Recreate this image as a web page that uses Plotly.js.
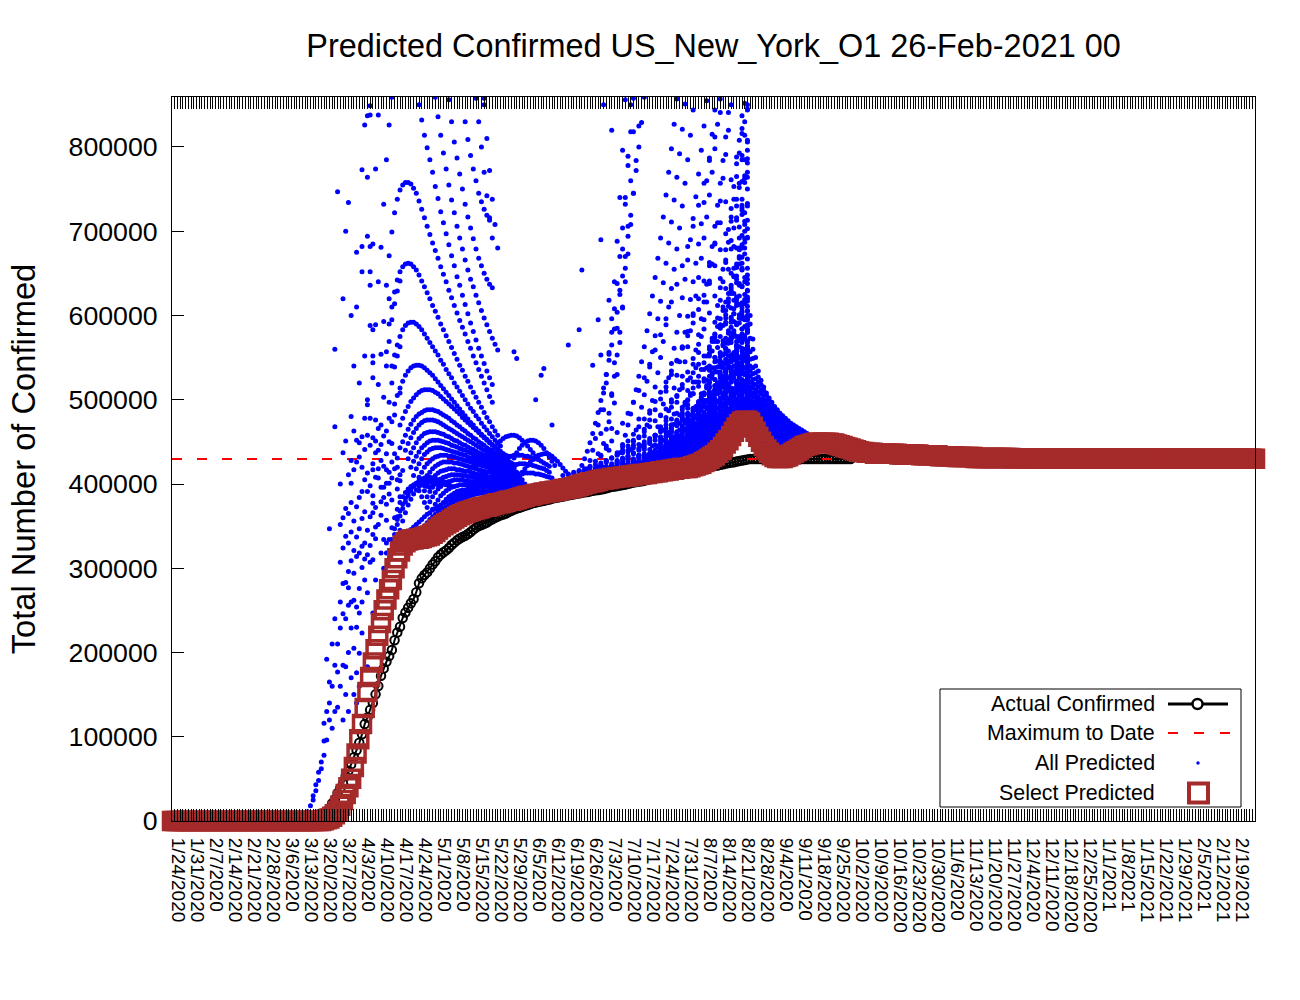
<!DOCTYPE html>
<html>
<head>
<meta charset="utf-8">
<script src="https://cdn.plot.ly/plotly-3.0.1.min.js"></script>
<style>html,body{margin:0;padding:0;background:#fff;}#chart{width:1300px;height:1000px;}</style>
</head>
<body>
<div id="chart"></div>
<script>
// ---------------- DATA ----------------
const startDate = '2020-01-24';
const endDate = '2021-02-26';
const chartTitle = 'Predicted Confirmed US_New_York_O1 26-Feb-2021 00';
const yTitle = 'Total Number of Confirmed';
const legendNames = ['Actual Confirmed', 'Maximum to Date', 'All Predicted', 'Select Predicted'];

const xTickLabels = ['1/24/2020','1/31/2020','2/7/2020','2/14/2020','2/21/2020','2/28/2020','3/6/2020','3/13/2020','3/20/2020','3/27/2020',
'4/3/2020','4/10/2020','4/17/2020','4/24/2020','5/1/2020','5/8/2020','5/15/2020','5/22/2020','5/29/2020','6/5/2020',
'6/12/2020','6/19/2020','6/26/2020','7/3/2020','7/10/2020','7/17/2020','7/24/2020','7/31/2020','8/7/2020','8/14/2020',
'8/21/2020','8/28/2020','9/4/2020','9/11/2020','9/18/2020','9/25/2020','10/2/2020','10/9/2020','10/16/2020','10/23/2020',
'10/30/2020','11/6/2020','11/13/2020','11/20/2020','11/27/2020','12/4/2020','12/11/2020','12/18/2020','12/25/2020','1/1/2021',
'1/8/2021','1/15/2021','1/22/2021','1/29/2021','2/5/2021','2/12/2021','2/19/2021'];
const yTickValues = [0,100000,200000,300000,400000,500000,600000,700000,800000];
const yTickLabels = ['0','100000','200000','300000','400000','500000','600000','700000','800000'];

const maxToDate = 429670;

// Actual confirmed, thousands, daily from 2020-01-24
const actualK = [
0,0,0,0,0,0,0,0,0,0,
0,0,0,0,0,0,0,0,0,0,
0,0,0,0,0,0,0,0,0,0,
0,0,0,0,0,0,0,0,0,0,
0.01,0.02,0.04,0.09,0.11,0.14,0.17,0.22,0.33,0.42,
0.61,0.73,0.95,1.37,2.38,4.15,7.1,10.4,15.2,20.9,
25.7,33.1,39.0,44.6,53.4,59.6,67.2,75.8,83.9,92.8,
102.9,115.0,122.9,131.9,140.1,150.3,160.1,172.3,181.0,189.0,
195.7,203.0,214.5,223.7,230.6,241.0,247.5,253.1,258.4,263.5,
271.6,282.1,288.0,292.0,295.1,299.7,304.4,308.3,313.0,316.4,
319.0,321.2,324.0,327.5,330.4,333.1,335.4,337.1,338.5,340.7,
343.1,345.8,348.2,350.1,351.4,352.8,354.4,356.5,358.2,359.9,
361.5,362.8,363.8,365.0,366.7,368.3,369.7,370.8,371.7,373.0,
374.1,375.1,376.2,377.3,378.1,378.8,379.5,380.2,380.9,381.7,
382.6,383.3,383.9,384.6,385.1,385.8,386.6,387.3,387.9,388.5,
388.9,389.7,390.3,390.4,391.2,391.9,392.5,392.9,393.5,394.1,
395.0,395.9,396.6,397.1,397.6,398.2,398.8,399.5,400.3,401.0,
401.7,402.3,402.9,403.2,404.0,404.8,405.6,406.3,406.8,407.3,
408.2,408.9,409.7,410.5,411.2,411.7,412.3,412.9,413.6,414.4,
415.0,415.8,416.3,416.8,417.6,418.2,418.9,419.6,420.3,420.9,
421.3,422.0,422.7,423.4,424.2,424.9,425.5,425.9,426.6,427.2,
427.8,428.5,429.2,429.67,429.67,429.67,429.67,429.67,429.67,429.67,
429.67,429.67,429.67,429.67,429.67,429.67,429.67,429.67,429.67,429.67,
429.67,429.67,429.67,429.67,429.67,429.67,429.67,429.67,429.67,429.67,
429.67,429.67,429.67,429.67,429.67,429.67,429.67,429.67,429.67,429.67,
429.67];

// Select predicted, thousands, daily from 2020-01-24 to 2021-02-26
const selectK = [
0,0,0,0,0,0,0,0,0,0,
0,0,0,0,0,0,0,0,0,0,
0,0,0,0,0,0,0,0,0,0,
0,0,0,0,0,0,0,0,0,0,
0,0,0,0,0,0,0,0,0,0,
0,0,0,0,0,0,1,2,3,5,
8,12,18,25,32,40,50,64,80,97,
115,134,153,171,188,204,220,235,250,263,
275,286,300,312,320,327,331,333,334,334,
335,335,336,337,338,339,341,343,346,349,
351,353,355,357,359,361,363,364,366,367,
368,369,370,371,372,373,373,374,375,376,
377,377,378,379,380,380,381,382,383,384,
385,386,386,387,388,388,389,390,390,391,
391,392,392,393,394,394,395,395,396,397,
398,399,400,401,402,402,403,404,405,405,
406,406,407,407,408,408,409,409,409,410,
410,411,411,412,412,412,413,413,414,414,
415,415,416,416,417,417,418,418,419,419,
419,420,421,422,423,424,426,428,430,432,
434,437,440,444,448,452,457,462,467,471,
474,475,475,473,468,462,456,450,445,441,
437,434,432,431,431,431,432,433,435,437,
439,441,443,445,446,447,448,449,449,449,
449,449,449,448,448,447,446,445,444,443,
442,441,440,439,438,438,437,437,437,436,
436,436,436,436,436,436,436,436,435,435,
435,435,435,435,435,435,434,434,434,434,
434,434,434,433,433,433,433,433,433,432,
432,432,432,432,432,432,431,431,431,431,
431,431,431,431,431,431,431,431,431,431,
430.5,430.5,430.5,430.5,430.5,430.5,430.5,430.5,430.5,430.5,
430,430,430,430,430,430,430,430,430,430,
430,430,430,430,430,430,430,430,430,430,
430,430,430,430,430,430,430,430,430,430,
430,430,430,430,430,430,430,430,430,430,
430,430,430,430,430,430,430,430,430,430,
430,430,430,430,430,430,430,430,430,430,
430,430,430,430,430,430,430,430,430,430,
430,430,430,430,430,430,430,430,430,430];

// All predicted: spring prediction curves (daily values, thousands)
const springStart = ['2020-04-13','2020-04-13','2020-04-14','2020-04-15','2020-04-17','2020-04-18','2020-04-19','2020-04-20',
'2020-04-21','2020-04-22','2020-04-23','2020-04-24','2020-04-25','2020-04-26','2020-04-27','2020-04-29','2020-05-01','2020-05-04',
'2020-05-21','2020-05-27','2020-05-31','2020-04-19','2020-04-25','2020-04-29','2020-04-15','2020-04-17','2020-04-13','2020-04-11',
'2020-05-13','2020-05-15','2020-05-18'];
const springK = [
[671,699,722,738,749,755,758,758,756,751,745,736,726,716,706,696,686,677,668,658,649,640,630,621,612,603,594,586,578,569,561,552,544,536,528,520,512,504,497],
[590,610,628,642,652,658,661,662,661,658,654,648,641,634,627,620,612,605,598,590,583,576,569,562,555,548,541,535,528,522,515,509,503,497,491,485,479,474,468,463,458],
[540,553,565,575,583,588,591,592,592,590,587,583,578,573,568,563,558,553,547,542,536,531,526,520,515,510,505,500,495,490,486,481,477,472,468,464,460,456,452,449,445],
[495,505,514,522,529,534,538,540,541,541,540,538,535,532,529,525,521,517,513,509,505,501,497,493,489,485,481,477,473,470,466,463,459,456,453,450,447,444,441,438,436],
[470,478,486,492,498,502,506,509,511,512,512,512,511,509,507,504,501,498,495,492,489,486,483,479,476,473,470,467,464,461,458,455,452,449,446,444,441,439,436,434,432],
[450,458,465,471,476,480,483,485,487,488,488,488,487,486,484,482,480,478,475,473,470,468,465,463,460,458,455,453,450,448,446,443,441,439,437,435,433,431,429,427,425],
[440,448,455,461,466,470,473,475,476,476,476,475,474,472,470,468,466,464,462,460,458,456,454,452,450,448,446,444,442,440,438,436,434,432,431,429,427,426,424,423],
[430,437,443,449,454,457,460,461,462,462,462,461,460,459,457,456,454,452,451,449,447,446,444,442,441,439,437,436,434,433,431,430,428,427,426,424,423,422,421,420],
[420,427,433,438,443,446,449,451,452,452,452,451,450,449,448,446,445,444,442,441,440,438,437,435,434,433,431,430,429,428,426,425,424,423,422,421,420,419,418],
[410,418,424,430,435,438,441,442,443,443,443,442,441,440,439,438,437,436,435,434,432,431,430,429,428,427,426,425,424,423,422,421,420,419,418,417,416,415,414],
[400,408,414,420,424,427,430,432,433,434,434,434,433,433,432,431,430,429,428,427,426,425,424,423,422,421,420,419,418,417,416,415,414,413,412,411,411,410,409],
[392,399,405,410,414,418,421,423,425,426,426,426,426,425,425,424,423,422,421,420,419,418,417,416,415,414,414,413,412,411,410,410,409,408,407,407,406,405,405],
[385,392,398,403,407,410,413,415,416,417,418,418,418,417,417,416,415,415,414,413,412,411,411,410,409,408,408,407,406,406,405,404,404,403,402,402,401,401,400],
[378,385,391,396,400,403,406,408,409,410,411,411,411,411,410,410,409,409,408,407,407,406,405,405,404,403,403,402,402,401,400,400,399,399,398,398,397,397],
[372,379,385,390,394,397,400,402,403,404,405,405,405,405,404,404,403,403,402,402,401,400,400,399,399,398,398,397,397,396,396,395,395,394,394,393,393,392],
[370,376,381,386,389,392,394,396,397,398,399,399,399,399,399,398,398,398,397,397,396,396,395,395,394,394,393,393,392,392,391,391,390,390,390,389,389],
[368,373,378,382,385,387,389,391,392,393,393,394,394,394,394,393,393,393,392,392,392,391,391,391,390,390,389,389,389,388,388,388,387,387,387,386],
[370,374,378,381,383,385,386,387,388,388,389,389,389,389,389,389,389,388,388,388,388,387,387,387,386,386,386,386,385,385,385,384,384,384],
[440,444,448,451,454,456,457,458,458,457,455,452,449,445,441,437,433,429],
[420,425,431,437,442,446,449,451,452,452,451,449,446,442,437,432,427,422],
[410,414,418,422,426,429,432,434,435,436,436,435,433,430,427,423,419,415],
[340,343,346,349,352,355,358,361,364,366,369,371,373,375,377,379,381,383,384,386,387,389,390,391,392,393,394,395,396,397,398],
[345,350,354,358,361,364,367,369,371,373,375,377,379,380,382,383,385,386,387,388,389,390,391,392,393,394,395],
[350,355,359,363,366,369,372,374,376,378,380,382,383,385,386,387,388,389,390,391,392,393,394],
[340,352,362,371,379,386,392,397,401,404,406,407,408,408,407,406,405,404,403,402,401],
[345,356,366,375,382,388,393,397,400,402,403,404,404,403,402,401,400,399,398,397],
[320,334,347,358,368,376,383,389,394,398,401,403,404,404,403,402,401,400,399,398],
[300,318,334,348,360,370,378,385,390,394,397,399,400,400,399,398,397,396],
[420,421,422,423,424,425,426,427,428,429,430,431,432,432,433,433,434,434,434,434,433,433,432,431,430,429,427,425,423,421],
[410,411,412,413,414,415,416,417,418,419,420,421,422,422,423,423,424,424,424,423,423,422,421,420,419,418,416,414],
[400,401,402,403,404,405,406,407,408,409,410,411,411,412,412,413,413,413,413,412,412,411,410,409,408,407]];

// Spring curves entering from above the plotted range (daily, thousands)
const springTopStart = ['2020-04-24','2020-05-01','2020-05-06','2020-05-11','2020-05-15','2020-05-18'];
const springTopK = [
[850,832,814,799,785,770,753,739,723,710,697,684,671,659,646,636,624,613,602,591,581,571,561,552,543,534,526,518],
[836,814,793,774,755,737,722,706,692,679,666,654,643,634,624,615,606,597,589,581,573,566,559],
[830,806,787,768,750,732,717,704,691,679,668,659,650,643,637,633],
[830,809,790,774,760,745,735,726,719,713],
[858,830,800,770,742,716,692],
[850,810,772,738,708,680]];

// Summer slow curves (every 2 days, thousands)
const summerSlowStart = ['2020-06-16','2020-06-18','2020-06-20','2020-06-24','2020-06-28','2020-06-30','2020-07-04','2020-07-06',
'2020-07-10','2020-07-12','2020-07-16','2020-07-18','2020-07-22','2020-07-24','2020-07-28','2020-07-30','2020-08-03','2020-08-05',
'2020-08-09','2020-08-11','2020-08-15','2020-08-17',
'2020-06-22','2020-06-26','2020-07-02','2020-07-08','2020-07-14','2020-07-20','2020-07-26','2020-08-01','2020-08-07','2020-08-13',
'2020-07-02','2020-07-02','2020-07-08','2020-07-08','2020-07-08'];
const summerSlowK = [
[410,411,412,413,414,416,417,419,420,422,424,426,428,430,432,434,436,439,441,444,446,449,452,455,458,461,464,468,471,475,479,483,487,491,495],
[412,414,416,418,420,423,425,428,431,434,437,440,443,447,450,454,458,462,466,470,475,479,484,489,494,499,505,510,516,522,528,534,540,547],
[408,410,413,416,419,423,427,431,435,440,445,450,456,462,468,475,482,489,497,505,514,523,532,542,552,563,574,585,597,609,622,635,648],
[412,414,416,418,421,424,427,430,433,436,440,444,448,452,456,461,466,471,476,481,487,493,499,505,512,519,526,533,541,549,557],
[414,416,418,420,422,424,426,429,431,434,436,439,442,445,448,451,454,457,461,464,468,472,476,480,484,488,492,496,501],
[415,418,421,425,429,433,437,442,447,452,458,464,470,477,484,491,499,507,516,525,535,545,556,567,579,591,604,617],
[417,419,421,423,425,427,430,432,435,437,440,443,446,449,452,455,458,462,465,469,473,477,481,485,490,494],
[418,421,424,428,432,436,441,446,451,457,463,469,476,483,490,498,506,515,524,533,543,553,564,575,587],
[420,422,424,426,429,431,434,436,439,442,445,448,451,454,458,461,465,469,473,477,481,486,490],
[421,425,429,434,439,444,450,456,462,469,476,483,491,499,508,517,526,536,546,557,568,580],
[423,425,428,431,434,437,440,443,447,451,455,459,463,468,473,478,483,488,494,500],
[424,428,433,438,443,449,455,462,469,476,484,492,501,510,520,530,541,552,564],
[426,428,431,434,437,440,444,448,452,456,460,465,470,475,480,486,492],
[428,432,437,442,448,454,461,468,476,484,493,502,512,522,533,544],
[429,432,436,440,445,450,455,461,467,473,480,487,495,503],
[430,435,441,447,454,462,470,479,488,498,509,520,532],
[432,436,441,446,451,457,463,470,477,485,493],
[434,440,447,455,463,472,482,492,503,515],
[440,446,453,461,469,478,487,497],
[444,451,459,468,478,489,500],
[456,466,477,489,502],
[465,478,492,507],
[412,416,421,427,434,442,451,461,472,484,497,511,526,542,559,577,596,616,637,659,682,706,731,757,784,812,841],
[414,417,421,426,431,437,444,451,459,468,477,487,498,509,521,534,547,561,576,591,607,624,641,659,678,697,717,738,759,781],
[416,420,425,431,438,446,455,465,476,488,501,515,530,546,563,581,600,620,641,663,686,710,735,761,788,816,845],
[419,423,428,434,441,449,458,468,479,491,504,518,533,549,566,584,603,623,644,666,689,713,738,764],
[422,426,431,437,444,452,461,471,482,494,507,521,536,552,569,587,606,626,647,669,692],
[425,429,434,440,447,455,464,474,485,497,510,524,539,555,572,590,609,629],
[428,433,439,446,454,463,473,484,496,509,523,538,554,571,589],
[431,437,444,452,461,471,482,494,507,521,536,552],
[436,444,453,463,474,486,499,513,528],
[450,460,471,483,496,510],
[416,417,418,419,420,421,422,424,426,427,429,431,433,436,438,440,443,446,449,452,455,458,461,465,468,472,476],
[416,417,419,421,423,425,428,430,433,437,440,444,448,452,456,461,465,470,476,481,487,493,499,505,512,519,526],
[419,420,421,422,423,424,425,427,428,430,432,434,436,439,441,444,446,449,452,455,459,462,465,469],
[419,420,422,424,426,428,430,433,436,439,443,446,450,454,459,463,468,473,479,484,490,496,502,509],
[419,421,424,427,430,434,438,442,447,453,458,465,471,478,485,493,501,510,519,528,538,548,558,569]];

// Summer fast / dense curves (daily, thousands)
const summerFastStart = ['2020-06-22','2020-06-25','2020-06-29','2020-07-02','2020-07-05','2020-07-09','2020-07-13','2020-07-17',
'2020-07-22','2020-07-27','2020-08-01','2020-08-05','2020-08-09','2020-08-13','2020-08-16','2020-08-18','2020-08-14','2020-08-17',
'2020-08-19','2020-06-28','2020-07-01',
'2020-07-14','2020-07-14','2020-07-14','2020-07-14',
'2020-07-20','2020-07-20','2020-07-20','2020-07-20',
'2020-07-26','2020-07-26','2020-07-26','2020-07-26','2020-07-26',
'2020-08-01','2020-08-01','2020-08-01','2020-08-01','2020-08-01',
'2020-08-07','2020-08-07','2020-08-07','2020-08-07',
'2020-08-12','2020-08-12','2020-08-12','2020-08-16','2020-08-16',
'2020-08-07','2020-08-10','2020-08-12','2020-08-15','2020-08-03','2020-07-30','2020-07-24','2020-07-18','2020-08-11','2020-08-05',
'2020-07-14','2020-07-14','2020-07-14','2020-07-14',
'2020-07-20','2020-07-20','2020-07-20','2020-07-20',
'2020-07-26','2020-07-26','2020-07-26','2020-07-26',
'2020-08-01','2020-08-01','2020-08-01','2020-08-01'];
const summerFastK = [
[415,422,430,439,449,460,472,485,499,514,530,547,565,584,604,625,647,670,694,719,745,772,800,829,859],
[418,428,440,454,470,488,508,530,554,580,608,638,670,704,740,778,818,858],
[420,433,448,465,484,505,528,553,580,609,640,673,708,745,784,825],
[418,440,466,496,530,568,610,656,706,760,818],
[420,428,437,447,458,470,483,497,512,528,545,563,582,602,623,645,668,692,717,743,770,798,827,857],
[422,431,441,452,464,477,491,506,522,539,557,576,596,617,639,662,686,711,737,764,792,821,851],
[424,434,445,457,470,484,499,515,532,550,569,589,610,632,655,679,704,730,757,785,814,844],
[426,435,445,456,468,481,495,510,526,543,561,580,600,621,643,666,690,715,741,768,796,825,855],
[428,437,447,458,470,483,497,512,528,545,563,582,602,623,645,668,692,717,743,770,798,827,857],
[430,440,451,463,476,490,505,521,538,556,575,595,616,638,661,685,710,736,763,791,820,850],
[432,442,453,465,478,492,507,523,540,558,577,597,618,640,663,687,712,738,765,793,822,852],
[435,446,458,471,485,500,516,533,551,570,590,611,633,656,680,705,731,758,786],
[440,453,467,482,498,515,533,552,572,593,615,638,662,687,713],
[448,463,479,496,514,533,553,574,596,619,643],
[458,475,493,512,532,553,574,596],
[466,490,516,544,574,606],
[445,470,500,535,575,620,670,725,785,850],
[462,500,545,597,656,722,796],
[470,530,600,680,770],
[416,436,460,488,520,556,596,640,688,740,796,856],
[420,445,474,507,544,585,630,679,732,789,850],
[422,422,423,423,424,424,425,425,426,427,427,428,429,430,431,431,432,433,434,436,437,438,439,440,441,443,444,445,447,448,450,451,453,455,456,458,460,461,463,465,467],
[422,423,423,424,425,426,427,428,429,430,432,433,434,436,437,439,441,442,444,446,448,450,452,454,457,459,461,464,466,469,472,474,477,480,483,486,489,492,495,499,502],
[422,423,424,425,427,428,430,432,433,435,437,440,442,444,447,449,452,455,458,461,464,468,471,475,478,482,486,490,494,498,502,507,511,516,521,526,531,536,541,547,552],
[422,424,425,427,429,432,434,437,440,443,446,449,453,456,460,464,468,473,477,482,487,492,497,503,508,514,520,526,533,539,546,553,560,567,574,582,589,597,605,614,622],
[425,425,426,426,427,427,428,429,429,430,431,432,433,434,435,436,437,438,439,440,442,443,444,446,447,449,451,452,454,456,457,459,461,463,465],
[425,426,426,427,428,429,430,431,433,434,435,437,439,440,442,444,446,448,450,452,454,457,459,462,464,467,470,473,476,479,482,485,488,492,495],
[425,426,427,429,430,432,433,435,437,439,441,444,446,449,452,455,458,461,464,467,471,475,479,483,487,491,495,500,504,509,514,519,524,530,535],
[425,427,428,430,433,435,438,441,444,447,450,454,458,462,466,471,475,480,485,491,496,502,508,514,520,527,534,541,548,555,563,570,578,587,595],
[428,428,429,429,430,431,431,432,433,434,435,436,437,438,439,441,442,443,445,446,448,450,451,453,455,457,459,461,463],
[428,429,430,430,431,433,434,435,437,438,440,442,443,445,448,450,452,454,457,460,462,465,468,471,474,478,481,484,488],
[428,429,430,432,433,435,437,439,442,444,447,449,452,456,459,462,466,470,474,478,482,487,491,496,501,506,512,517,523],
[428,430,432,434,436,439,442,445,448,452,456,460,464,469,474,479,484,490,495,502,508,515,522,529,536,544,551,560,568],
[428,430,433,436,440,444,448,453,458,463,469,475,482,489,496,504,512,520,529,538,548,558,568,579,590,601,613,625,638],
[431,431,432,433,433,434,435,436,437,438,439,441,442,444,445,447,449,450,452,454,457,459,461],
[431,432,433,434,435,437,438,440,442,444,446,449,451,454,457,460,463,467,470,474,478,482,486],
[431,432,434,436,438,440,442,445,448,451,455,459,463,467,471,476,481,486,492,497,503,510,516],
[431,433,435,438,441,444,448,452,456,461,466,472,477,484,490,497,505,512,520,529,537,547,556],
[431,434,437,441,445,450,455,461,467,474,482,490,498,507,516,526,537,548,560,572,584,597,611],
[438,439,439,440,442,443,444,446,448,450,452,454,457,459,462,465,468],
[438,439,441,442,445,447,450,453,456,459,463,468,472,477,482,487,493],
[438,440,442,445,448,452,456,461,466,471,477,484,491,498,506,514,523],
[438,441,444,448,453,458,464,471,479,487,496,505,515,526,538,550,563],
[447,448,449,451,453,455,458,461,465,468,473,477],
[447,449,452,455,459,464,469,475,482,490,498,507],
[447,450,455,460,467,475,484,494,506,518,532,547],
[460,462,466,470,476,483,491,500],
[460,465,471,481,492,506,522,540],
[440,452,466,482,500,520,542,566,592,620,650,682,716,752,790,830],
[442,458,476,496,518,542,568,596,626,658,692,728,766,806],
[450,470,493,518,546,576,608,643,680,720,763,808],
[455,480,508,540,575,613,655,700,750],
[435,445,457,470,484,499,515,532,550,569,589,610,632,655,679,704,730,757,785,814,844],
[430,438,447,457,468,480,493,507,522,538,555,573,592,612,633,655,678,702,727,753,780,808,837],
[427,434,442,451,461,472,484,497,511,526,542,559,577,596,616,637,659,682,706,731,757,784,812,841],
[424,430,437,445,454,464,475,487,500,514,529,545,562,580,599,619,640,662,685,709,734,760,787,815,844],
[445,455,467,480,495,511,529,548,569,591,615,640,667],
[436,444,453,463,474,486,499,513,528,544,561,579,598,618,639,661,684,708,733],
[424,424,425,426,426,427,428,428,429,430,431,432,433,434,435,437,438,439,441,442,444,445,447,448,450,452,453,455,457,459,461,463,465,467,470,472,474,477,479,481,484],
[424,425,426,427,428,429,430,431,433,434,436,438,439,441,443,445,447,449,452,454,457,459,462,464,467,470,473,476,479,483,486,489,493,496,500,504,508,512,516,520,524],
[423,424,426,427,429,431,433,435,437,439,442,445,447,450,454,457,460,464,467,471,475,479,483,488,492,497,502,506,511,517,522,527,533,539,545,551,557,563,570,576,583],
[423,425,428,430,433,437,440,444,448,452,456,461,466,471,476,482,488,494,500,507,514,521,528,536,544,552,560,569,578,587,596,606,616,626,636,647,657,668,680,691,703],
[426,427,427,428,428,429,430,431,432,433,434,435,437,438,439,441,442,444,446,447,449,451,453,455,457,459,461,463,466,468,471,473,476,478,481],
[426,427,428,429,430,431,433,434,436,438,439,441,443,446,448,450,453,455,458,461,464,467,470,473,476,480,483,487,491,495,499,503,507,512,516],
[426,427,429,430,432,434,436,438,441,443,446,449,452,455,459,462,466,470,474,478,483,487,492,497,502,507,512,518,523,529,535,541,548,554,561],
[426,428,431,433,436,440,443,447,451,456,460,465,470,476,482,488,494,501,508,515,522,530,538,546,555,564,573,582,592,602,612,623,634,645,656],
[430,431,432,433,434,436,437,439,441,443,445,447,449,452,454,457,460,463,466,469,473,476,480,484,488,492,496,501,505],
[430,431,433,435,437,439,441,444,446,449,453,456,460,463,467,472,476,481,485,490,496,501,507,513,519,525,531,538,545],
[430,432,434,437,440,443,447,451,455,460,464,470,475,481,487,493,500,507,514,522,530,538,547,556,565,575,584,595,605],
[430,433,438,442,447,453,459,466,473,481,489,498,507,517,528,538,550,562,575,588,601,616,630,646,661,678,695,712,730],
[433,434,435,437,438,440,442,445,447,450,453,456,459,463,466,470,474,478,483,488,493,498,503],
[433,435,436,439,441,444,447,450,454,458,463,467,472,477,483,489,495,501,508,515,522,530,538],
[433,435,438,441,445,449,453,458,463,469,475,482,489,496,504,513,521,530,540,550,561,572,583],
[433,437,442,447,453,460,468,476,485,495,506,518,530,543,556,571,586,602,619,636,654,673,693]];

// Post-peak decaying curves (daily from 2020-08-23, thousands)
const tailStart = '2020-08-23';
const tailK = [
[620,590,560,540,527,518,511,505,499,494,490,486,482,479,476,473,470,467,465,463,461,459,457,456,454,453,452,451,450,449,448,447,447,446,445,445,444,444,443,443,442,442,441,441,441,440,440,440,439],
[580,557,538,525,515,507,500,494,489,485,481,478,475,472,469,467,465,463,461,459,458,456,455,454,453,452,451,450,449,448,447],
[560,540,524,512,503,496,490,485,480,476,473,470,467,464,462,460,458,456,455,453,452,451,450,449,448,447,446,446,445],
[545,528,514,503,495,488,483,478,474,470,467,465,462,460,458,456,455,453,452,451,450,449,448,447,446],
[530,515,503,494,487,481,476,472,468,465,462,460,458,456,454,452,451,450,448,447,446,445,444,444],
[518,505,494,486,479,474,469,466,462,460,457,455,453,452,450,449,447,446,445],
[505,494,485,478,472,467,463,460,457,455,453,451,449,448,446,445,444,443,442],
[496,486,478,472,466,462,458,455,453,450,448,447,445,444,443],
[488,479,472,466,461,457,454,451,449,447,445,443,442,441,440,439],
[478,470,464,459,455,451,448,446,444,442,441],
[600,573,549,532,521,512,505,499,494,489,485,481,478,475,472,469,467,465,463,461,459,457,456,455,453,452,451,450],
[570,548,531,518,509,501,495,489,484,480,476,473,470,467,465,463,461,459,457,456,455,453,452,451,450,449],
[552,534,519,507,499,492,486,481,477,473,470,467,464,462,460,458,456,455,453,452,451,450,449,448],
[537,521,508,498,491,485,480,475,471,468,465,462,460,458,456,454,453,451,450,449,448,447],
[524,510,498,490,483,477,473,469,465,462,459,457,455,453,452,450,449,448,447,446],
[511,499,489,482,476,471,466,463,460,457,455,453,451,449,448,447,446,445],
[500,490,481,475,469,464,460,457,455,452,450,449,447,446,445,444],
[492,483,475,469,464,459,456,453,451,449,447,445,444,443],
[484,475,468,462,458,454,451,448,446,444,443,442],
[630,600,572,550,534,523,515,508,502,497,492,488,484,481,478,475,472,470,468,466,464,462,460,458,457,456,454,453,452,451,450,449,448,447]];

// Scattered single predictions (day index from 2020-01-24, thousands)
const scatterDay = [
50,51,52,52,53,53,54,54,55,55, 56,56,56,57,57,57,58,58,58,59,
59,59,60,60,60,61,61,61,62,62, 62,63,63,63,64,64,64,65,65,65,
66,66,66,67,67,67,68,68,68,69, 69,69,70,70,70,71,72,72,74,74,
75,77,79,58,60,64,69,67,66,63, 65,62,68,70,71,72,72,72,71,73,
73,74,74,74,74,74,75,75,75,76, 76,77,77,77,78,78,79,79,80,80,
80,80,81,81,81,82,83,83,83,84, 84,84,61,65,70,72,75,78,79,80,
71,72,73,76,73,72,70,73,74,77, 68,70,73,73,76,79,80,82,83,84,
73,74,75,78,81,80,71,74,74,77, 79,83,84,67,79,82,81,97,102,115,
60,63,66,64,68,69,66,126,127,136, 137,146,140,134,151,150,158,159,161,162,
157,158,155,
62,62,63,63,63,64,64,64,65,65, 65,65,66,66,66,66,67,67,67,67,
68,68,68,68,68,69,69,69,69,69, 70,70,70,70,71,71,71,71,72,72,
72,72,73,73,73,73,74,74,74,75, 75,75,75,76,76,76,76,77,77,77,
78,78,78,78,79,79,79,79,80,80, 81,81,81,82,82,83,83,84,84,85];
const scatterK = [
11,18,25,30,36,43,48,58,62,70, 78,95,116,96,130,192,120,140,165,110,
160,210,130,185,240,135,177,210,160,229, 260,120,185,282,150,183,240,130,200,277,
170,229,260,150,205,294,140,176,230,160, 199,247,223,260,301,286,183,271,247,310,
286,318,330,347,468,451,449,417,401,360, 330,400,373,420,330,391,494,500,478,478,
361,377,340,417,455,526,408,349,476,440, 518,379,396,470,334,503,357,417,401,450,
478,497,381,474,520,482,361,405,420,385, 443,508,747,734,773,764,774,732,785,826,
826,837,838,838,849,694,682,682,685,681, 675,652,652,636,640,636,620,614,629,641,
588,583,589,593,595,569,552,552,544,554, 557,552,563,540,540,539,859,859,856,858,
560,620,600,700,610,520,480,557,549,529, 537,565,470,500,654,583,690,850,618,820,
595,553,541,
307,352,246,324,437,283,338,371,256,296, 365,411,309,343,378,428,262,321,356,463,
254,314,337,426,452,276,318,347,384,432, 326,359,391,456,311,367,405,441,316,345,
413,458,307,327,398,446,366,386,424,335, 372,437,451,352,407,418,466,363,428,447,
384,396,421,457,376,401,436,463,388,414, 407,426,448,418,436,394,431,404,411,416];

// ---------------- BUILD ----------------
function addDays(iso, n) {
  const d = new Date(iso + 'T00:00:00Z');
  d.setUTCDate(d.getUTCDate() + n);
  return d.toISOString().slice(0, 10);
}
function labelToIso(s) {
  const p = s.split('/').map(Number);
  return p[2] + '-' + String(p[0]).padStart(2, '0') + '-' + String(p[1]).padStart(2, '0');
}
const xTickVals = xTickLabels.map(labelToIso);

const actualX = actualK.map((v, i) => addDays(startDate, i));
const actualY = actualK.map(v => v * 1000);
const selectX = selectK.map((v, i) => addDays(startDate, i));
const selectY = selectK.map(v => v * 1000);

const predX = [], predY = [];
function addCurves(starts, vals, step) {
  vals.forEach((arr, i) => {
    const s = Array.isArray(starts) ? starts[i] : starts;
    arr.forEach((v, j) => { predX.push(addDays(s, j * step)); predY.push(v * 1000); });
  });
}
addCurves(springStart, springK, 1);
addCurves(springTopStart, springTopK, 1);
addCurves(summerSlowStart, summerSlowK, 2);
addCurves(summerFastStart, summerFastK, 1);
addCurves(tailStart, tailK, 1);
scatterDay.forEach((d, i) => { predX.push(addDays(startDate, d)); predY.push(scatterK[i] * 1000); });

const FONT = 'Liberation Sans, Arial, Helvetica, sans-serif';
const BROWN = '#a52a2a';

const traces = [
  { x: actualX, y: actualY, type: 'scatter', mode: 'lines+markers', name: legendNames[0],
    line: { color: 'black', width: 2 },
    marker: { symbol: 'circle-open', size: 8.5, color: 'black', line: { width: 2, color: 'black' } } },
  { x: [startDate, endDate], y: [maxToDate, maxToDate], type: 'scatter', mode: 'lines', name: legendNames[1],
    line: { color: '#ff0000', width: 2, dash: '10px,15px' } },
  { x: predX, y: predY, type: 'scatter', mode: 'markers', name: legendNames[2],
    marker: { symbol: 'circle', size: 5, color: '#0000ff', line: { width: 0 } } },
  { x: selectX, y: selectY, type: 'scatter', mode: 'markers', name: legendNames[3], cliponaxis: false,
    marker: { symbol: 'square-open', size: 17, color: BROWN, line: { width: 3.5, color: BROWN } } }
];

// legend drawn as a box (layout helpers: pixel -> paper)
const L = 172, R = 1255, T = 97, B = 821;
const PX = x => (x - L) / (R - L);
const PY = y => (B - y) / (B - T);
const rows = [704, 733, 763, 793];

const shapes = [
  { type: 'rect', xref: 'paper', yref: 'paper', x0: PX(940), x1: PX(1241), y0: PY(807), y1: PY(689),
    line: { color: 'black', width: 1 }, fillcolor: 'white', layer: 'above' },
  { type: 'line', xref: 'paper', yref: 'paper', x0: PX(1168), x1: PX(1228), y0: PY(rows[0]), y1: PY(rows[0]),
    line: { color: 'black', width: 3 }, layer: 'above' },
  { type: 'circle', xref: 'paper', yref: 'paper', x0: PX(1192.5), x1: PX(1202.5), y0: PY(rows[0] + 5), y1: PY(rows[0] - 5),
    line: { color: 'black', width: 2.5 }, fillcolor: 'white', layer: 'above' },
  { type: 'line', xref: 'paper', yref: 'paper', x0: PX(1168), x1: PX(1230), y0: PY(rows[1]), y1: PY(rows[1]),
    line: { color: '#ff0000', width: 2, dash: '10px,16px' }, layer: 'above' },
  { type: 'circle', xref: 'paper', yref: 'paper', x0: PX(1196.3), x1: PX(1199.7), y0: PY(rows[2] + 1.7), y1: PY(rows[2] - 1.7),
    line: { width: 0 }, fillcolor: '#0000ff', layer: 'above' },
  { type: 'rect', xref: 'paper', yref: 'paper', x0: PX(1189), x1: PX(1208), y0: PY(rows[3] + 9.5), y1: PY(rows[3] - 9.5),
    line: { color: BROWN, width: 4 }, fillcolor: 'rgba(0,0,0,0)', layer: 'above' }
];
const annotations = legendNames.map((t, i) => ({
  text: t, xref: 'paper', yref: 'paper', x: PX(1157), y: PY(rows[i]), xanchor: 'right', yanchor: 'middle',
  showarrow: false, font: { family: FONT, size: 21.4, color: 'black' }
}));

const layout = {
  width: 1300, height: 1000,
  margin: { l: L, r: 1300 - R, t: T, b: 1000 - B, pad: 0 },
  paper_bgcolor: 'white', plot_bgcolor: 'white',
  font: { family: FONT, color: 'black' },
  showlegend: false,
  title: { text: chartTitle, font: { family: FONT, size: 32.4, color: 'black' },
    x: 0.5, xref: 'paper', xanchor: 'center', y: 0.954, yref: 'container', yanchor: 'middle' },
  xaxis: {
    type: 'date', range: [startDate, endDate], autorange: false,
    tickmode: 'array', tickvals: xTickVals, ticktext: xTickLabels, tickangle: 90,
    tickfont: { family: FONT, size: 19, color: 'black' },
    ticks: 'inside', ticklen: 12, tickwidth: 1, tickcolor: 'black',
    minor: { tickmode: 'linear', tick0: startDate, dtick: 86400000, ticks: 'inside', ticklen: 12, tickwidth: 1, tickcolor: 'black', showgrid: false },
    showline: true, linecolor: 'black', linewidth: 1, mirror: 'ticks',
    showgrid: false, zeroline: false, ticklabelstandoff: 12, ticklabelshift: 6
  },
  yaxis: {
    range: [0, 2 * maxToDate], autorange: false,
    tickmode: 'array', tickvals: yTickValues, ticktext: yTickLabels,
    tickfont: { family: FONT, size: 26.7, color: 'black' },
    ticks: 'inside', ticklen: 12, tickwidth: 1, tickcolor: 'black',
    showline: true, linecolor: 'black', linewidth: 1, mirror: true,
    showgrid: false, zeroline: false, ticklabelstandoff: 8,
    title: { text: yTitle, font: { family: FONT, size: 32.7, color: 'black' }, standoff: 23 }
  },
  shapes: shapes,
  annotations: annotations
};

Plotly.newPlot('chart', traces, layout, { displayModeBar: false, responsive: false });
</script>
</body>
</html>
